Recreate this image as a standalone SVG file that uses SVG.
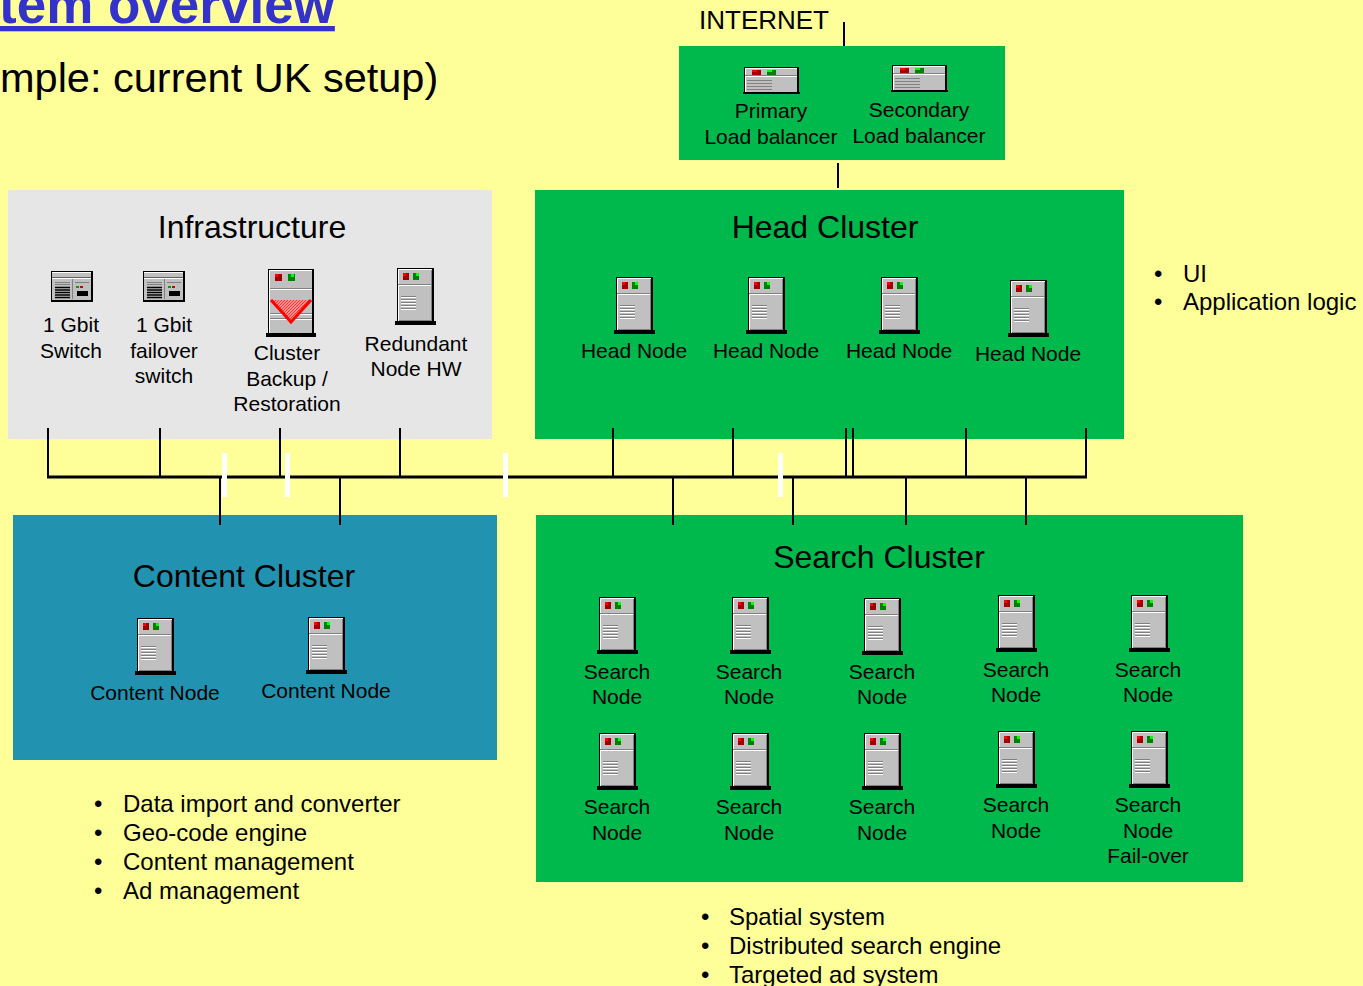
<svg xmlns="http://www.w3.org/2000/svg" xmlns:xlink="http://www.w3.org/1999/xlink" width="1363" height="986" viewBox="0 0 1363 986">
<style>
text{font-family:"Liberation Sans",Arial,sans-serif;fill:#000}
.lbl{font-size:21px;text-anchor:middle}
.ttl{font-size:32px;text-anchor:middle}
.bul{font-size:24px}
.wire{stroke:#000;stroke-width:2;fill:none}
.bus{stroke:#000;stroke-width:3;fill:none}
</style>
<defs>
<g id="tower">
<rect x="0.5" y="0.5" width="35" height="53" fill="#c0c0c0" stroke="#000"/>
<path d="M1.5 53 V1.5 H35" stroke="#fff" fill="none"/>
<path d="M34.5 2 V52.5 H2" stroke="#808080" fill="none"/>
<rect x="35" y="0" width="2" height="54" fill="#000"/>
<rect x="-2" y="53" width="41" height="4" fill="#000"/>
<rect x="6" y="5" width="6" height="7" fill="#a00000"/>
<rect x="6" y="5" width="3" height="3" fill="#ff0000"/>
<rect x="16" y="5" width="6" height="7" fill="#008000"/>
<rect x="19" y="5" width="3" height="3" fill="#00ff00"/>
<line x1="1" y1="16.5" x2="34" y2="16.5" stroke="#808080"/>
<line x1="1" y1="17.5" x2="34" y2="17.5" stroke="#fff"/>
<path d="M4 28.5 H19 M4 31.5 H19 M4 34.5 H19 M4 37.5 H19 M4 40.5 H19" stroke="#808080"/>
<path d="M4 29.5 H19 M4 32.5 H19 M4 35.5 H19 M4 38.5 H19 M4 41.5 H19" stroke="#fff"/>
</g>
<g id="switch">
<rect x="0.5" y="0.5" width="40" height="29" fill="#c0c0c0" stroke="#000"/>
<rect x="40" y="0" width="2" height="31" fill="#000"/>
<rect x="0" y="29" width="42" height="2" fill="#000"/>
<line x1="1" y1="1.5" x2="40" y2="1.5" stroke="#fff"/>
<line x1="1" y1="6.5" x2="40" y2="6.5" stroke="#606060"/>
<line x1="1" y1="7.5" x2="40" y2="7.5" stroke="#fff"/>
<line x1="21.5" y1="8" x2="21.5" y2="28" stroke="#808080"/>
<path d="M4 11.5 H19 M4 13.5 H19" stroke="#808080"/>
<path d="M4 16.5 H19 M4 19 H19 M4 21.5 H19 M4 24 H19 M4 26.5 H19" stroke="#000" stroke-width="1.6"/>
<path d="M24 11.5 H38" stroke="#808080"/>
<rect x="25" y="15" width="3" height="2" fill="#00a000"/>
<rect x="29" y="15" width="3" height="2" fill="#d00000"/>
<rect x="26" y="20" width="11" height="5" fill="#000"/>
</g>
<g id="lb">
<rect x="0.5" y="0.5" width="53" height="25" fill="#c0c0c0" stroke="#000"/>
<rect x="53" y="0" width="2" height="26" fill="#000"/>
<rect x="-1" y="25" width="57" height="2" fill="#000"/>
<line x1="1" y1="1.5" x2="53" y2="1.5" stroke="#fff"/>
<line x1="1.5" y1="1" x2="1.5" y2="25" stroke="#fff"/>
<rect x="8" y="3" width="9" height="5" fill="#a00000"/>
<rect x="8" y="3" width="5" height="2" fill="#ff0000"/>
<rect x="23" y="3" width="9" height="5" fill="#008000"/>
<rect x="23" y="3" width="5" height="2" fill="#00ff00"/>
<line x1="1" y1="8.5" x2="53" y2="8.5" stroke="#808080"/>
<line x1="1" y1="9.5" x2="53" y2="9.5" stroke="#fff"/>
<path d="M3 13.5 H28 M3 16.5 H28 M3 19.5 H28 M3 22.5 H28" stroke="#808080"/>
</g>
<pattern id="hatch" width="3" height="3" patternUnits="userSpaceOnUse">
<rect width="3" height="3" fill="#ff9090"/>
<path d="M0 3 L3 0" stroke="#ff3030" stroke-width="1"/>
</pattern>
</defs>

<rect x="0" y="0" width="1363" height="986" fill="#ffff99"/>

<g id="title">
<text x="-1" y="23" style="font-size:53px;font-weight:bold;fill:#3333cc;text-decoration:underline">tem overview</text>
<text x="0" y="92" style="font-size:41.5px">mple: current UK setup)</text>
</g>

<g id="boxes">
<rect id="lb-box" x="679" y="46" width="326" height="114" fill="#00b94c"/>
<rect id="infra-box" x="8" y="190" width="484" height="249" fill="#e6e6e6"/>
<rect id="head-box" x="535" y="190" width="589" height="249" fill="#00b94c"/>
<rect id="content-box" x="13" y="515" width="484" height="245" fill="#2193b0"/>
<rect id="search-box" x="536" y="515" width="707" height="367" fill="#00b94c"/>
</g>

<g id="connectors">
<line class="wire" x1="844" y1="22" x2="844" y2="46"/>
<line class="wire" x1="838" y1="163" x2="838" y2="188"/>
<line class="bus" x1="47" y1="477" x2="1087" y2="477"/>
<path class="wire" d="M48 428 V477 M160 428 V477 M280 428 V477 M400 428 V477 M613 428 V477 M733 428 V477 M846 428 V477 M853 428 V477 M966 428 V477 M1086 428 V477"/>
<path class="wire" d="M220 477 V525 M340 477 V525 M673 477 V525 M793 477 V525 M906 477 V525 M1026 477 V525"/>
<g fill="#fff">
<rect x="222" y="453" width="5" height="44"/>
<rect x="285" y="453" width="5" height="44"/>
<rect x="503" y="453" width="5" height="44"/>
<rect x="778" y="453" width="5" height="44"/>
</g>
</g>

<g id="internet"><text x="699" y="29" style="font-size:26px">INTERNET</text></g>

<g id="primary-lb">
<use xlink:href="#lb" x="744" y="67"/>
<text class="lbl" x="771" y="118">Primary</text>
<text class="lbl" x="771" y="144">Load balancer</text>
</g>
<g id="secondary-lb">
<use xlink:href="#lb" x="892" y="65"/>
<text class="lbl" x="919" y="117">Secondary</text>
<text class="lbl" x="919" y="143">Load balancer</text>
</g>

<g id="infrastructure">
<text class="ttl" x="252" y="238">Infrastructure</text>
</g>
<g id="switch1">
<use xlink:href="#switch" x="51" y="271"/>
<text class="lbl" x="71" y="332">1 Gbit</text>
<text class="lbl" x="71" y="358">Switch</text>
</g>
<g id="switch2">
<use xlink:href="#switch" x="143" y="271"/>
<text class="lbl" x="164" y="332">1 Gbit</text>
<text class="lbl" x="164" y="358">failover</text>
<text class="lbl" x="164" y="383">switch</text>
</g>
<g id="backup">
<rect x="268.5" y="269.5" width="44" height="64" fill="#c0c0c0" stroke="#000"/>
<path d="M269.5 333 V270.5 H312" stroke="#fff" fill="none"/>
<rect x="312" y="269" width="2" height="66" fill="#000"/>
<rect x="266" y="333" width="50" height="4" fill="#000"/>
<rect x="275" y="274" width="7" height="7" fill="#a00000"/>
<rect x="275" y="274" width="3" height="3" fill="#ff0000"/>
<rect x="288" y="274" width="7" height="7" fill="#008000"/>
<rect x="291" y="274" width="3" height="3" fill="#00ff00"/>
<path d="M270 288.5 H312 M270 313.5 H312 M270 318.5 H312" stroke="#808080"/>
<path d="M270 289.5 H312 M270 314.5 H312 M270 319.5 H312" stroke="#fff"/>
<path d="M271 300 H311 L291 322 Z" fill="url(#hatch)"/>
<path d="M271 300 L291 322 L311 300" stroke="#ff0000" stroke-width="3" fill="none"/>
<text class="lbl" x="287" y="360">Cluster</text>
<text class="lbl" x="287" y="386">Backup /</text>
<text class="lbl" x="287" y="411">Restoration</text>
</g>
<g id="redundant">
<use xlink:href="#tower" x="397" y="268"/>
<text class="lbl" x="416" y="351">Redundant</text>
<text class="lbl" x="416" y="376">Node HW</text>
</g>

<g id="head-cluster"><text class="ttl" x="825" y="238">Head Cluster</text></g>
<g id="head1"><use xlink:href="#tower" x="616" y="277"/><text class="lbl" x="634" y="358">Head Node</text></g>
<g id="head2"><use xlink:href="#tower" x="748" y="277"/><text class="lbl" x="766" y="358">Head Node</text></g>
<g id="head3"><use xlink:href="#tower" x="881" y="277"/><text class="lbl" x="899" y="358">Head Node</text></g>
<g id="head4"><use xlink:href="#tower" x="1010" y="280"/><text class="lbl" x="1028" y="361">Head Node</text></g>

<g id="head-notes">
<text class="bul" x="1154" y="282">•</text><text class="bul" x="1183" y="282">UI</text>
<text class="bul" x="1154" y="310">•</text><text class="bul" x="1183" y="310">Application logic</text>
</g>

<g id="content-cluster"><text class="ttl" x="244" y="587">Content Cluster</text></g>
<g id="content1"><use xlink:href="#tower" x="137" y="618"/><text class="lbl" x="155" y="700">Content Node</text></g>
<g id="content2"><use xlink:href="#tower" x="308" y="617"/><text class="lbl" x="326" y="698">Content Node</text></g>

<g id="content-notes">
<text class="bul" x="94" y="812">•</text><text class="bul" x="123" y="812">Data import and converter</text>
<text class="bul" x="94" y="841">•</text><text class="bul" x="123" y="841">Geo-code engine</text>
<text class="bul" x="94" y="870">•</text><text class="bul" x="123" y="870">Content management</text>
<text class="bul" x="94" y="899">•</text><text class="bul" x="123" y="899">Ad management</text>
</g>

<g id="search-cluster"><text class="ttl" x="879" y="568">Search Cluster</text></g>
<g id="search1"><use xlink:href="#tower" x="599" y="597"/><text class="lbl" x="617" y="679">Search</text><text class="lbl" x="617" y="704">Node</text></g>
<g id="search2"><use xlink:href="#tower" x="732" y="597"/><text class="lbl" x="749" y="679">Search</text><text class="lbl" x="749" y="704">Node</text></g>
<g id="search3"><use xlink:href="#tower" x="864" y="598"/><text class="lbl" x="882" y="679">Search</text><text class="lbl" x="882" y="704">Node</text></g>
<g id="search4"><use xlink:href="#tower" x="998" y="595"/><text class="lbl" x="1016" y="677">Search</text><text class="lbl" x="1016" y="702">Node</text></g>
<g id="search5"><use xlink:href="#tower" x="1131" y="595"/><text class="lbl" x="1148" y="677">Search</text><text class="lbl" x="1148" y="702">Node</text></g>
<g id="search6"><use xlink:href="#tower" x="599" y="733"/><text class="lbl" x="617" y="814">Search</text><text class="lbl" x="617" y="840">Node</text></g>
<g id="search7"><use xlink:href="#tower" x="732" y="733"/><text class="lbl" x="749" y="814">Search</text><text class="lbl" x="749" y="840">Node</text></g>
<g id="search8"><use xlink:href="#tower" x="864" y="733"/><text class="lbl" x="882" y="814">Search</text><text class="lbl" x="882" y="840">Node</text></g>
<g id="search9"><use xlink:href="#tower" x="998" y="731"/><text class="lbl" x="1016" y="812">Search</text><text class="lbl" x="1016" y="838">Node</text></g>
<g id="search10"><use xlink:href="#tower" x="1131" y="731"/><text class="lbl" x="1148" y="812">Search</text><text class="lbl" x="1148" y="838">Node</text><text class="lbl" x="1148" y="863">Fail-over</text></g>

<g id="search-notes">
<text class="bul" x="701" y="925">•</text><text class="bul" x="729" y="925">Spatial system</text>
<text class="bul" x="701" y="954">•</text><text class="bul" x="729" y="954">Distributed search engine</text>
<text class="bul" x="701" y="983">•</text><text class="bul" x="729" y="983">Targeted ad system</text>
</g>
</svg>
